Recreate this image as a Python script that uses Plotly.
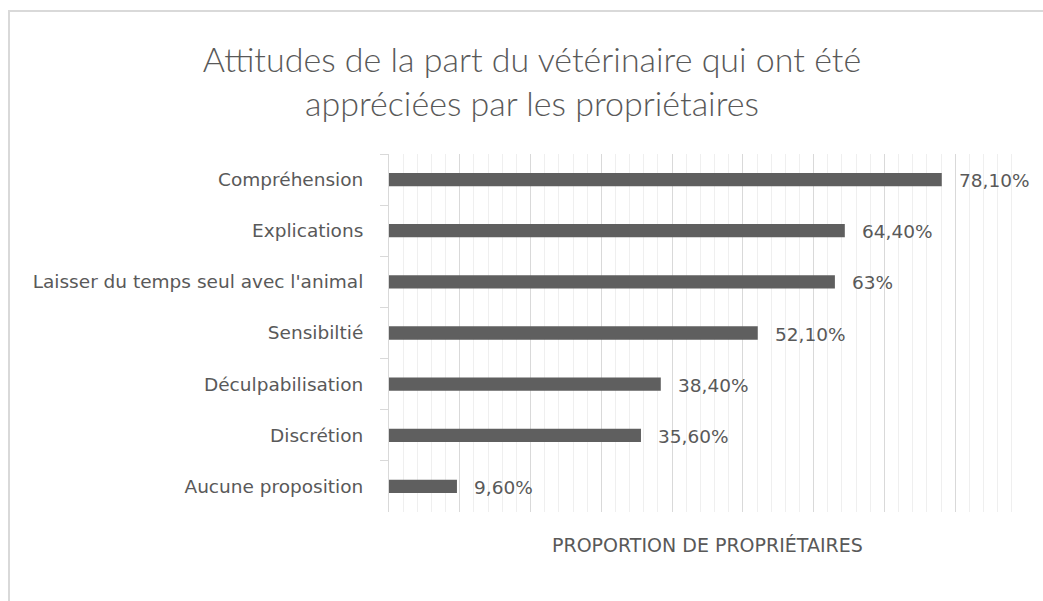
import plotly.graph_objects as go

categories = ["Compréhension", "Explications", "Laisser du temps seul avec l'animal",
              "Sensibiltié", "Déculpabilisation", "Discrétion", "Aucune proposition"]
values = [78.1, 64.4, 63.0, 52.1, 38.4, 35.6, 9.6]
value_labels = ["78,10%", "64,40%", "63%", "52,10%", "38,40%", "35,60%", "9,60%"]

title_text = "Attitudes de la part du vétérinaire qui ont été<br>appréciées par les propriétaires"
x_title = "PROPORTION DE PROPRIÉTAIRES"

W, H = 1043, 601
L, R, T, B = 389, 17, 154, 89
pw, ph = W - L - R, H - T - B

def px(x):
    return (x - L) / pw

def py(y):
    return (H - B - y) / ph

txt = "#595959"
font = "DejaVu Sans"

fig = go.Figure()
fig.add_trace(go.Bar(
    x=values, y=categories, orientation="h",
    marker=dict(color="#5f5f5f", line=dict(width=0)),
    hoverinfo="skip",
))

for c, v, lab in zip(categories, values, value_labels):
    fig.add_annotation(x=v, y=c, text=lab, showarrow=False, xanchor="left",
                       xshift=15, yshift=-1, font=dict(family=font, size=18.5, color=txt))

fig.add_shape(type="rect", xref="paper", yref="paper",
              x0=px(9), x1=px(1070), y0=py(630), y1=py(11),
              line=dict(color="#d9d9d9", width=2), layer="below")

fig.add_annotation(xref="paper", yref="paper", x=0.5, y=py(545), text=x_title,
                   showarrow=False, xanchor="center", yanchor="middle",
                   font=dict(family=font, size=19, color=txt))

fig.update_layout(
    width=W, height=H,
    margin=dict(l=L, r=R, t=T, b=B),
    paper_bgcolor="white", plot_bgcolor="white",
    bargap=0.74,
    showlegend=False,
    title=dict(text=title_text, x=532 / W, xref="container", xanchor="center",
               y=1 - 72 / H, yanchor="middle",
               font=dict(family="Lato", size=34, color=txt, weight=300)),
    xaxis=dict(range=[0, 90], showticklabels=False, ticks="",
               showgrid=True, gridcolor="#d9d9d9", gridwidth=1, dtick=10,
               minor=dict(dtick=2, showgrid=True, gridcolor="#efefef", gridwidth=1),
               zeroline=False, showline=False, fixedrange=True),
    yaxis=dict(autorange="reversed", showline=True, linecolor="#d9d9d9", linewidth=1,
               ticks="outside", tickson="boundaries", ticklen=8, tickcolor="#d9d9d9",
               ticklabelstandoff=21,
               tickfont=dict(family=font, size=18.5, color=txt), showgrid=False),
)

fig.write_html("out.html", config={"displayModeBar": False})

with open("out.html", "r", encoding="utf-8") as f:
    html = f.read()
html = html.replace("<head>", "<head><style>html,body{margin:0;padding:0;overflow:hidden;}</style>", 1)
with open("out.html", "w", encoding="utf-8") as f:
    f.write(html)
